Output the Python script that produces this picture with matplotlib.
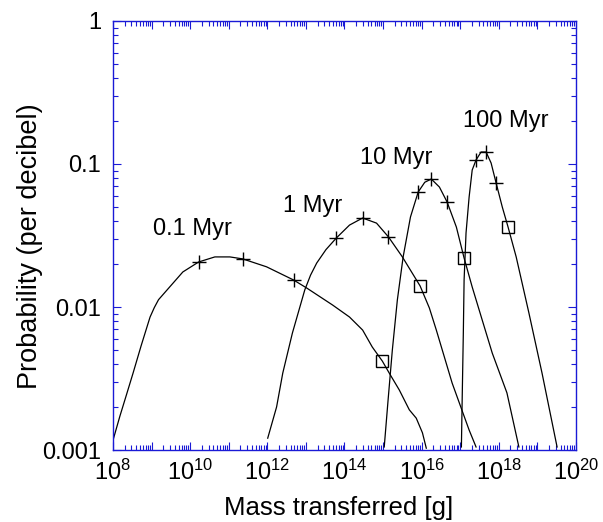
import numpy as np
import matplotlib
matplotlib.use('Agg')
import matplotlib.pyplot as plt
from matplotlib.ticker import LogLocator, FuncFormatter, NullFormatter

plt.rcParams['font.family'] = ['Liberation Sans', 'DejaVu Sans']

BLUE = '#1a1ad6'

# curves: log10(mass transferred [g]) and probability per decibel
m_01 = [8.00, 8.18, 8.35, 8.52, 8.73, 8.96, 9.07, 9.18, 9.40, 9.81, 10.22,
        10.64, 11.03, 11.36, 11.98, 12.68, 13.02, 13.69, 14.13, 14.47, 14.72,
        14.98, 15.16, 15.42, 15.68, 15.86, 16.02, 16.12]
p_01 = [0.00117, 0.00173, 0.00244, 0.00345, 0.00537, 0.0085, 0.0099, 0.01125,
        0.01315, 0.01758, 0.02065, 0.0224, 0.0224, 0.0217, 0.0191, 0.01545,
        0.01358, 0.01033, 0.00851, 0.0069, 0.00525, 0.00419, 0.00345, 0.00263,
        0.00191, 0.00167, 0.00132, 0.00103]

m_1 = [12.01, 12.24, 12.40, 12.65, 12.97, 13.12, 13.28, 13.52, 13.79, 14.13,
       14.47, 14.83, 15.14, 15.50, 15.96, 16.20, 16.38, 16.79, 17.23, 17.41]
p_1 = [0.00121, 0.0020, 0.00345, 0.00658, 0.01315, 0.0167, 0.0203, 0.0252,
       0.0304, 0.0374, 0.0419, 0.0386, 0.0309, 0.0224, 0.01403, 0.00984,
       0.0069, 0.00294, 0.00138, 0.00105]

m_10 = [15.03, 15.13, 15.24, 15.37, 15.52, 15.71, 15.91, 16.08, 16.25, 16.46,
        16.66, 16.90, 17.10, 17.31, 17.57, 17.83, 18.21, 18.52]
p_10 = [0.00105, 0.00224, 0.0050, 0.0112, 0.0224, 0.0426, 0.0637, 0.0745,
        0.0785, 0.0690, 0.0542, 0.0362, 0.0220, 0.0138, 0.0081, 0.00476,
        0.00251, 0.00105]

m_100 = [17.03, 17.05, 17.08, 17.10, 17.15, 17.23, 17.31, 17.41, 17.54, 17.67,
         17.80, 17.93, 18.09, 18.24, 18.45, 18.78, 19.12, 19.51]
p_100 = [0.00105, 0.00224, 0.00658, 0.01545, 0.0329, 0.0587, 0.0908, 0.1067,
         0.1213, 0.1213, 0.1016, 0.0736, 0.0500, 0.0362, 0.0224, 0.00908,
         0.00345, 0.00105]

# '+' markers
plus_m = [10.22, 11.36, 12.68, 13.79, 14.47, 15.14, 15.91, 16.25, 16.66,
          17.41, 17.67, 17.93]
plus_p = [0.02065, 0.0217, 0.01545, 0.0304, 0.0419, 0.0309, 0.0637, 0.0785,
          0.0542, 0.1067, 0.1213, 0.0736]

# open square markers
sq_m = [14.98, 15.96, 17.10, 18.24]
sq_p = [0.00419, 0.01403, 0.0220, 0.0362]

curve_labels = ['0.1 Myr', '1 Myr', '10 Myr', '100 Myr']


def main(path='out.png'):
  fig = plt.figure(figsize=(6.03, 5.22), dpi=100)
  ax = fig.add_axes([0.1874, 0.1379, 0.7678, 0.8219])

  for m, p in [(m_01, p_01), (m_1, p_1), (m_10, p_10), (m_100, p_100)]:
    ax.plot(10 ** np.array(m), p, color='black', lw=0.9)

  ax.plot(10 ** np.array(plus_m), plus_p, ls='none', marker='+', ms=10,
          mew=1.0, color='black')
  ax.plot(10 ** np.array(sq_m), sq_p, ls='none', marker='s', ms=8,
          mew=1.0, mfc='none', mec='black')

  # curve annotations
  pos = [(10.07, 0.0318), (13.17, 0.0461), (15.34, 0.100), (18.18, 0.1815)]
  for (lx, py), lab in zip(pos, curve_labels):
    ax.text(10 ** lx, py, lab, ha='center', va='baseline', fontsize=17)

  ax.set_xscale('log')
  ax.set_yscale('log')
  ax.set_xlim(1e8, 1e20)
  ax.set_ylim(1e-3, 1)

  ax.xaxis.set_major_locator(LogLocator(base=10, numticks=50))
  ax.xaxis.set_minor_locator(LogLocator(base=10, subs=np.arange(2, 10), numticks=200))

  def xfmt(v, _):
    e = int(round(np.log10(v)))
    return r'$\mathdefault{10^{%d}}$' % e if e % 2 == 0 else ''

  ax.xaxis.set_major_formatter(FuncFormatter(xfmt))
  ax.xaxis.set_minor_formatter(NullFormatter())

  ax.yaxis.set_major_locator(LogLocator(base=10, numticks=10))
  ax.yaxis.set_minor_locator(LogLocator(base=10, subs=np.arange(2, 10), numticks=50))
  ax.yaxis.set_major_formatter(FuncFormatter(lambda v, _: f'{v:g}'))
  ax.yaxis.set_minor_formatter(NullFormatter())

  ax.tick_params(which='both', direction='in', top=True, right=True,
                 color=BLUE, labelsize=17, width=0.8)
  ax.tick_params(which='major', length=6)
  ax.tick_params(which='minor', length=3.5)
  ax.tick_params(axis='x', which='major', pad=7)
  ax.tick_params(axis='y', which='major', pad=8.5)

  for s in ax.spines.values():
    s.set_color(BLUE)
    s.set_linewidth(1.0)

  fig.text(338.5 / 603, 1 - 515 / 522, 'Mass transferred [g]', ha='center',
           va='baseline', fontsize=18.5)
  fig.text(30 / 603, 1 - 246 / 522, 'Probability (per decibel)', ha='center',
           va='center', rotation=90, fontsize=19.5)

  fig.savefig(path, dpi=100)


if __name__ == '__main__':
  main()
